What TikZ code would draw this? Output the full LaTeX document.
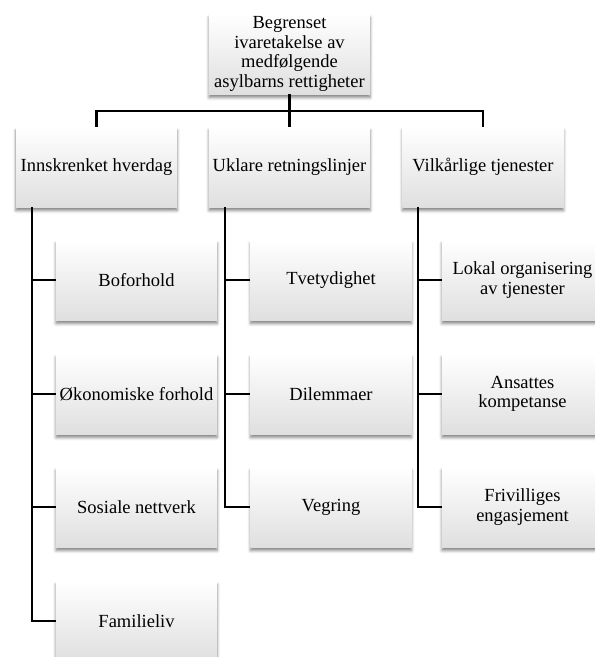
\documentclass[tikz,border=0pt]{standalone}
\usepackage{fontspec}
\setmainfont{Liberation Serif}
\usetikzlibrary{calc,shadows.blur}

\begin{document}
\begin{tikzpicture}[x=1pt,y=-1pt]
	\tikzstyle{box}=[minimum width=161pt,minimum height=80pt,inner sep=2pt,align=center,
		top color=white,middle color=white,bottom color=gray!25,
		blur shadow={shadow xshift=0pt,shadow yshift=-3.5pt,shadow blur radius=3pt,shadow opacity=50},
		font=\fontsize{18.5}{19.5}\selectfont]
	\tikzstyle{conn}=[line width=2.3pt]
	
	\useasboundingbox (0,0) rectangle (595,657);
	
	\node [box] (top) at (289.5,54) {Begrenset\\ivaretakelse av\\medfølgende\\asylbarns rettigheter};
	
	\node [box] (hverdag) at ( 96.5,167) {Innskrenket hverdag};
	\node [box] (retning) at (289.5,167) {Uklare retningslinjer};
	\node [box] (tjenest) at (483,  167) {Vilkårlige tjenester};
	
	\node [box] (bo)     at (136.5,280) {Boforhold};
	\node [box] (okonom) at (136.5,394) {Økonomiske forhold};
	\node [box] (sosial) at (136.5,507) {Sosiale nettverk};
	\node [box] (famil)  at (136.5,621) {Familieliv};
	
	\node [box] (tvety)  at (331,280) {Tvetydighet};
	\node [box] (dilem)  at (331,394) {Dilemmaer};
	\node [box] (vegr)   at (331,507) {Vegring};
	
	\node [box] (lokal)  at (522.5,280) {Lokal organisering\\av tjenester};
	\node [box] (ansatt) at (522.5,394) {Ansattes\\kompetanse};
	\node [box] (frivil) at (522.5,507) {Frivilliges\\engasjement};
	
	\coordinate (bar) at (0,111);
	\coordinate (t1) at ($(hverdag.south west)+(16,0)$);
	\coordinate (t2) at ($(retning.south west)+(16,0)$);
	\coordinate (t3) at ($(tjenest.south west)+(16,0)$);
	
	\draw[conn] (top)--(retning);
	\draw[conn] (hverdag.north)--(hverdag.north |- bar)--(tjenest.north |- bar)--(tjenest.north);
	
	\draw[conn] (t1) |- (famil.west);
	\draw[conn] (t2) |- (vegr.west);
	\draw[conn] (t3) |- (frivil.west);
	\foreach \n in {bo,okonom,sosial}
		\draw[conn] (\n.west)--(\n.west -| t1);
	\foreach \n in {tvety,dilem}
		\draw[conn] (\n.west)--(\n.west -| t2);
	\foreach \n in {lokal,ansatt}
		\draw[conn] (\n.west)--(\n.west -| t3);
\end{tikzpicture}
\end{document}
